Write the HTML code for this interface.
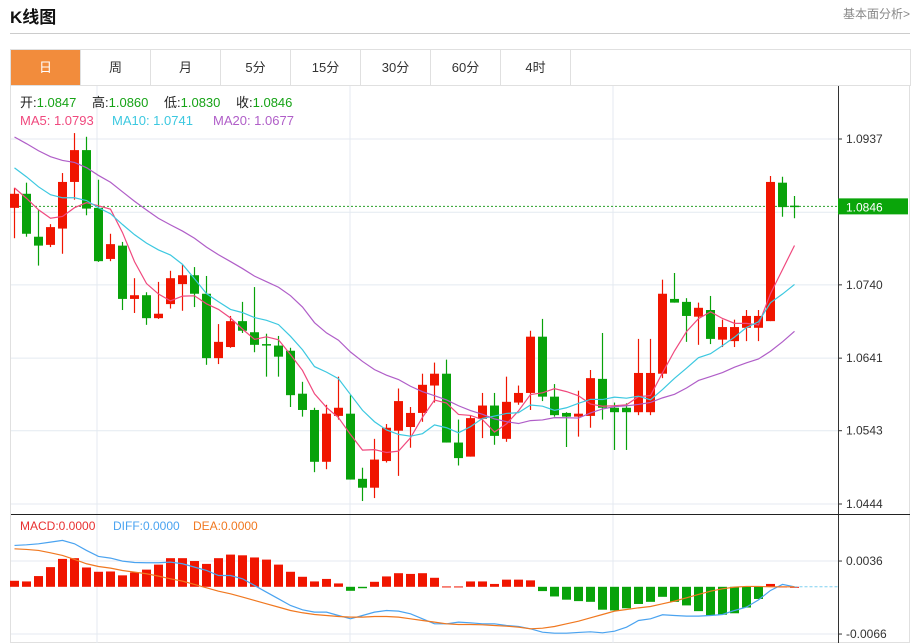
<!DOCTYPE html>
<html><head><meta charset="utf-8"><style>
body{margin:0;width:917px;height:643px;overflow:hidden;background:#fff;font-family:"Liberation Sans","Noto Sans CJK SC",sans-serif;position:relative}
.t{position:absolute}
.tab{position:absolute;top:50px;height:35px;width:69px;border-right:1px solid #e0e0e0;text-align:center;line-height:35px;font-size:13px;color:#333}
</style></head><body>
<div class="t" style="left:10px;top:3px;font-size:17px;font-weight:bold;color:#111">K线图</div>
<div class="t" style="right:7px;top:5px;font-size:12px;color:#888">基本面分析&gt;</div>
<div class="t" style="left:10px;top:33px;width:900px;height:1px;background:#ccc"></div>
<div class="t" style="left:10px;top:49px;width:899px;height:36px;border:1px solid #e0e0e0;border-bottom:none"></div>
<div class="tab" style="left:11px;background:#f28c3c;color:#fff">日</div>
<div class="tab" style="left:81px">周</div>
<div class="tab" style="left:151px">月</div>
<div class="tab" style="left:221px">5分</div>
<div class="tab" style="left:291px">15分</div>
<div class="tab" style="left:361px">30分</div>
<div class="tab" style="left:431px">60分</div>
<div class="tab" style="left:501px">4时</div>
<svg id="c" width="917" height="643" style="position:absolute;left:0;top:0"></svg>
<script>
const opens=[1.0844,1.0863,1.0805,1.0794,1.0816,1.0879,1.0922,1.0844,1.0775,1.0793,1.0721,1.0726,1.0695,1.0714,1.0741,1.0753,1.0728,1.0641,1.0656,1.0691,1.0676,1.0660,1.0658,1.0651,1.0593,1.0571,1.0501,1.0563,1.0566,1.0478,1.0466,1.0502,1.0543,1.0548,1.0567,1.0604,1.0620,1.0527,1.0508,1.0559,1.0577,1.0532,1.0581,1.0594,1.0670,1.0589,1.0567,1.0562,1.0563,1.0613,1.0574,1.0574,1.0568,1.0568,1.0620,1.0721,1.0717,1.0697,1.0706,1.0666,1.0664,1.0682,1.0682,1.0691,1.0878,1.0847];
const closes=[1.0863,1.0809,1.0793,1.0818,1.0879,1.0922,1.0843,1.0772,1.0795,1.0721,1.0726,1.0695,1.0701,1.0749,1.0753,1.0728,1.0641,1.0663,1.0691,1.0678,1.0659,1.0658,1.0643,1.0591,1.0571,1.0501,1.0566,1.0574,1.0477,1.0466,1.0504,1.0547,1.0583,1.0567,1.0605,1.0620,1.0527,1.0506,1.0560,1.0577,1.0536,1.0582,1.0594,1.0670,1.0589,1.0564,1.0562,1.0566,1.0614,1.0574,1.0568,1.0568,1.0621,1.0621,1.0728,1.0716,1.0698,1.0709,1.0667,1.0683,1.0683,1.0698,1.0698,1.0879,1.0845,1.0846];
const highs=[1.0871,1.0878,1.0841,1.0822,1.0891,1.0945,1.0940,1.0882,1.0809,1.0798,1.0749,1.0730,1.0744,1.0759,1.0767,1.0764,1.0752,1.0687,1.0698,1.0717,1.0737,1.0674,1.0671,1.0655,1.0609,1.0574,1.0578,1.0616,1.0591,1.0493,1.0532,1.0552,1.0600,1.0575,1.0620,1.0635,1.0639,1.0558,1.0564,1.0594,1.0594,1.0616,1.0604,1.0678,1.0694,1.0606,1.0568,1.0597,1.0625,1.0675,1.0581,1.0580,1.0667,1.0667,1.0747,1.0756,1.0722,1.0716,1.0725,1.0693,1.0693,1.0706,1.0706,1.0887,1.0886,1.0860];
const lows=[1.0803,1.0805,1.0766,1.0791,1.0782,1.0855,1.0834,1.0771,1.0772,1.0706,1.0702,1.0686,1.0694,1.0708,1.0705,1.0710,1.0632,1.0633,1.0655,1.0675,1.0649,1.0616,1.0616,1.0575,1.0562,1.0487,1.0491,1.0558,1.0477,1.0448,1.0452,1.0500,1.0482,1.0520,1.0555,1.0581,1.0527,1.0496,1.0508,1.0533,1.0524,1.0528,1.0578,1.0571,1.0583,1.0562,1.0521,1.0535,1.0547,1.0558,1.0517,1.0517,1.0564,1.0564,1.0614,1.0716,1.0663,1.0659,1.0660,1.0656,1.0656,1.0664,1.0664,1.0691,1.0832,1.0830];
const priorCloses=[1.0990,1.0985,1.0978,1.0980,1.0975,1.0985,1.0982,1.0980,1.0978,1.0982,1.0930,1.0928,1.0925,1.0920,1.0922,1.0880,1.0870,1.0875,1.0867];
const macdHist=[0.00084,0.00075,0.0015,0.00275,0.0039,0.004,0.0027,0.0021,0.00214,0.0016,0.002,0.0024,0.0031,0.004,0.004,0.0036,0.0032,0.004,0.0045,0.0044,0.0041,0.0038,0.0031,0.0021,0.0014,0.00075,0.0011,0.00047,-0.00056,-0.0002,0.0007,0.00145,0.0019,0.0018,0.0019,0.00126,0.00005,0.00005,0.00075,0.00075,0.0004,0.001,0.001,0.0009,-0.0006,-0.00135,-0.0018,-0.002,-0.0021,-0.0032,-0.0033,-0.003,-0.0024,-0.0021,-0.0014,-0.0021,-0.0026,-0.0034,-0.004,-0.0039,-0.0037,-0.0029,-0.0017,0.0004,0.00005,0];
const diffVals=[0.00578,0.00587,0.00601,0.00624,0.00648,0.00601,0.00508,0.00424,0.00401,0.00359,0.0034,0.00336,0.00336,0.00345,0.00322,0.00275,0.00228,0.00158,0.00158,0.00112,0.00019,-0.00075,-0.00168,-0.00261,-0.00322,-0.00354,-0.00354,-0.00401,-0.00447,-0.00401,-0.00354,-0.00331,-0.0034,-0.00377,-0.00447,-0.00517,-0.00517,-0.00494,-0.00503,-0.00517,-0.00517,-0.00541,-0.00555,-0.00587,-0.00634,-0.00648,-0.00648,-0.00638,-0.00629,-0.00643,-0.0062,-0.00564,-0.00471,-0.00447,-0.00391,-0.00401,-0.0041,-0.0041,-0.00401,-0.00387,-0.00331,-0.00284,-0.00182,-0.00051,0.00033,0];
const deaVals=[0.00531,0.00522,0.00508,0.00475,0.00438,0.00382,0.00322,0.00284,0.00261,0.00228,0.00205,0.00182,0.00149,0.00112,0.00079,0.00033,-0.00014,-0.00061,-0.00098,-0.00144,-0.00191,-0.00238,-0.00284,-0.00331,-0.00363,-0.00387,-0.00401,-0.00415,-0.00424,-0.00424,-0.00415,-0.00415,-0.00424,-0.00447,-0.00471,-0.00494,-0.00517,-0.00527,-0.00527,-0.00531,-0.00541,-0.0055,-0.00564,-0.00587,-0.00578,-0.00555,-0.00517,-0.0048,-0.00433,-0.00387,-0.0034,-0.00317,-0.00294,-0.00275,-0.00238,-0.002,-0.00154,-0.00107,-0.00061,-0.00028,-0.00005,0.00005,0.00005,0,0,0];
const priceTicks=[1.0937,1.0838,1.0740,1.0641,1.0543,1.0444];
const macdTicks=[0.0036,-0.0066];
const lastPrice=1.0846;

const NS='http://www.w3.org/2000/svg';
const svg=document.getElementById('c');
function mk(tag,attrs,parent){const e=document.createElementNS(NS,tag);for(const k in attrs)e.setAttribute(k,attrs[k]);(parent||svg).appendChild(e);return e;}
const X0=11,AX=838;
const xi=i=>14.5+12*i;
const yP=p=>139+(1.0937-p)/(1.0937-1.0444)*365;
const yM=v=>586.8-v*7157;
const RED='#f01500',GREEN='#08a20a';

// frame & grid
let g=mk('g',{});


mk('rect',{x:10.5,y:85.5,width:899,height:557,fill:'none',stroke:'#e0e0e0'},g);
[97,350,613].forEach(x=>mk('line',{x1:x,x2:x,y1:86,y2:643,stroke:'#e4eaf0'},g));
priceTicks.forEach(p=>mk('line',{x1:X0,x2:AX,y1:yP(p),y2:yP(p),stroke:'#e4eaf0'},g));
macdTicks.forEach(v=>mk('line',{x1:X0,x2:AX,y1:yM(v),y2:yM(v),stroke:'#e4eaf0'},g));
mk('line',{x1:AX+.5,x2:AX+.5,y1:86,y2:643,stroke:'#333'},g);
mk('line',{x1:X0,x2:910,y1:514.5,y2:514.5,stroke:'#222'},g);

// axis labels
priceTicks.forEach(p=>{
  if(Math.abs(p-lastPrice)<0.002)return;
  mk('line',{x1:AX,x2:AX+4,y1:yP(p),y2:yP(p),stroke:'#333'});
  const t=mk('text',{x:AX+8,y:yP(p)+4,'font-size':12,fill:'#333'});
  t.textContent=p.toFixed(4);
  
  
});
macdTicks.forEach(v=>{
  mk('line',{x1:AX,x2:AX+4,y1:yM(v),y2:yM(v),stroke:'#333'});
  const t=mk('text',{x:AX+8,y:yM(v)+4,'font-size':12,fill:'#333'});
  t.textContent=v.toFixed(4);
  
  
});

// last price line
const lp=mk('line',{x1:X0,x2:AX,y1:yP(lastPrice),y2:yP(lastPrice),stroke:'#2aa02a','stroke-dasharray':'2,2'});


const lb=mk('rect',{x:AX,y:yP(lastPrice)-8,width:70,height:16,fill:'#0aa50a'});


const lt=mk('text',{x:AX+8,y:yP(lastPrice)+5,'font-size':12,fill:'#fff'});
lt.textContent=lastPrice.toFixed(4);



// candles
closes.forEach((c,i)=>{
  const o=opens[i],up=c>=o,col=up?RED:GREEN,x=xi(i);
  const cg=mk('g',{});
  
  
  mk('line',{x1:x,x2:x,y1:yP(highs[i]),y2:yP(lows[i]),stroke:col,'stroke-width':1.2},cg);
  const top=yP(Math.max(o,c)),bot=yP(Math.min(o,c));
  mk('rect',{x:x-4.5,y:top,width:9,height:Math.max(bot-top,1.5),fill:col},cg);
});

// moving averages
const all=priorCloses.concat(closes);
function ma(n){return closes.map((_,i)=>{const j=i+priorCloses.length;let s=0;for(let k=j-n+1;k<=j;k++)s+=all[k];return s/n;});}
function line(vals,yf,col,name){
  const p=mk('polyline',{points:vals.map((v,i)=>xi(i)+','+yf(v)).join(' '),fill:'none',stroke:col,'stroke-width':1.2});
  
  
}
line(ma(5),yP,'#f0497e','ma5-line');
line(ma(10),yP,'#3cc8e0','ma10-line');
line(ma(20),yP,'#b05ec8','ma20-line');

// MACD
macdHist.forEach((v,i)=>{
  const x=xi(i),y0=yM(0),y1=yM(v);
  const r=mk('rect',{x:x-4.5,y:Math.min(y0,y1),width:9,height:Math.max(Math.abs(y1-y0),1),fill:v>=0?RED:GREEN});
  
  
});
const zl=mk('line',{x1:xi(macdHist.length-1),x2:AX,y1:yM(0),y2:yM(0),stroke:'#7fd0f0','stroke-dasharray':'3,2'});


line(diffVals,yM,'#4aa3f0','diff-line');
line(deaVals,yM,'#f07820','dea-line');

// info texts
function txt(x,y,s,col,size,name){const t=mk('text',{x:x,y:y,'font-size':size,fill:col});t.textContent=s;return t;}
const ohlc=[['开:',opens[65]],['高:',highs[65]],['低:',lows[65]],['收:',closes[65]]];
let xx=20;
ohlc.forEach(([l,v])=>{
  const t=mk('text',{x:xx,y:107,'font-size':13});
  
  
  const a=mk('tspan',{fill:'#222'},t);a.textContent=l;
  const b=mk('tspan',{fill:'#16a316'},t);b.textContent=v.toFixed(4);
  xx+=72;
});
const m5=ma(5),m10=ma(10),m20=ma(20);
txt(20,125,'MA5: '+m5[65].toFixed(4),'#f0497e',13,'ma5-legend');
txt(112,125,'MA10: '+m10[65].toFixed(4),'#3cc8e0',13,'ma10-legend');
txt(213,125,'MA20: '+m20[65].toFixed(4),'#b05ec8',13,'ma20-legend');
txt(20,530,'MACD:0.0000','#e83030',12,'macd-legend');
txt(113,530,'DIFF:0.0000','#4aa3f0',12,'diff-legend');
txt(193,530,'DEA:0.0000','#f07820',12,'dea-legend');
</script>
</body></html>
